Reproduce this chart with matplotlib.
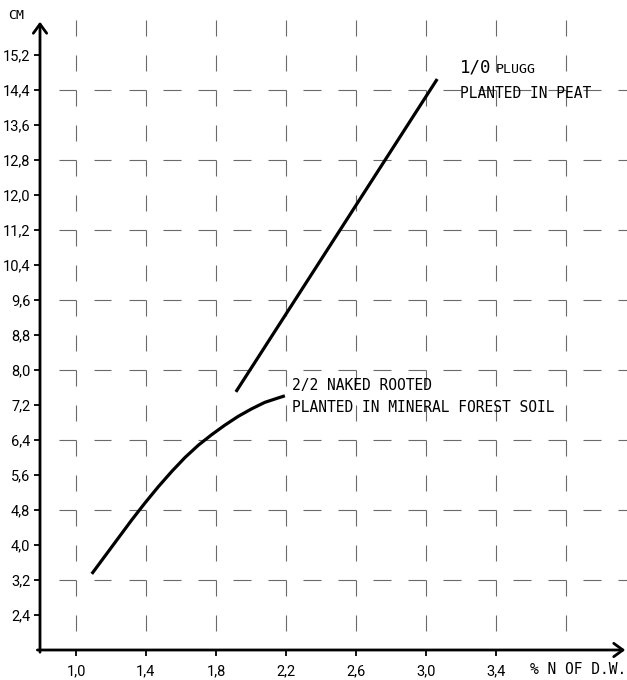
import numpy as np
import matplotlib
matplotlib.use('Agg')
import matplotlib.pyplot as plt

# curve 1: 1/0 plugg planted in peat (straight line)
peat_x = [1.914, 3.065]
peat_y = [7.50, 14.65]

# curve 2: 2/2 naked rooted, mineral forest soil
soil_x = [1.090, 1.166, 1.242, 1.318, 1.394, 1.470, 1.547, 1.623, 1.699, 1.775,
          1.851, 1.927, 2.003, 2.079, 2.155, 2.194]
soil_y = [3.34, 3.75, 4.16, 4.57, 4.96, 5.33, 5.68, 6.00, 6.28, 6.52,
          6.74, 6.94, 7.11, 7.26, 7.36, 7.41]

x_ticks = [1.0, 1.4, 1.8, 2.2, 2.6, 3.0, 3.4]
y_ticks = [2.4, 3.2, 4.0, 4.8, 5.6, 6.4, 7.2, 8.0, 8.8, 9.6, 10.4, 11.2, 12.0, 12.8, 13.6, 14.4, 15.2]
x_grid = [1.0, 1.4, 1.8, 2.2, 2.6, 3.0, 3.4, 3.8]
y_grid = [3.2, 4.8, 6.4, 8.0, 9.6, 11.2, 12.8, 14.4]

XMIN, XMAX = 0.794, 4.15
YMIN, YMAX = 1.6, 16.1

mono = 'DejaVu Sans Mono'
tick_font = ['Liberation Sans Narrow', 'Roboto', 'DejaVu Sans']

fig = plt.figure(figsize=(6.27, 6.80), dpi=100)
ax = fig.add_axes([40 / 627, 30 / 680, 587 / 627, 634.4 / 680])
ax.set_xlim(XMIN, XMAX)
ax.set_ylim(YMIN, YMAX)

# dashed grid: short vertical dashes hanging from each y tick,
# short horizontal dashes ending on every 0.2 step
grid_col = '#6a6a6a'
for gx in x_grid:
    starts = np.append(np.array(y_ticks), 16.0)
    ax.vlines([gx] * len(starts), starts - 0.37, starts, color=grid_col, lw=0.8)
hx = np.arange(1.0, 4.21, 0.2)
for gy in y_grid:
    ax.hlines([gy] * len(hx), hx - 0.1, hx, color=grid_col, lw=0.8)

ax.plot(peat_x, peat_y, color='black', lw=2.3, solid_capstyle='butt')
ax.plot(soil_x, soil_y, color='black', lw=2.3, solid_capstyle='butt', solid_joinstyle='round')

# axes with arrow heads
for s in ax.spines.values():
    s.set_visible(False)
arrow = dict(arrowstyle='->,head_length=0.55,head_width=0.4', lw=2.0, color='black',
             shrinkA=0, shrinkB=0, mutation_scale=12)
ax.annotate('', xy=(XMIN, 15.96), xytext=(XMIN, YMIN - 0.05), arrowprops=arrow, annotation_clip=False)
ax.annotate('', xy=(4.14, YMIN), xytext=(XMIN - 0.015, YMIN), arrowprops=arrow, annotation_clip=False)

ax.set_xticks(x_ticks)
ax.set_yticks(y_ticks)
ax.set_xticklabels([f'{v:.1f}'.replace('.', ',') for v in x_ticks], family=tick_font, fontsize=10.5)
ax.set_yticklabels([f'{v:.1f}'.replace('.', ',') for v in y_ticks], family=tick_font, fontsize=10.5)
ax.tick_params(axis='y', length=4, width=1.3, pad=3)
ax.tick_params(axis='x', length=4, width=1.3, pad=6)

ax.text(0.66, 16.10, 'CM', family=mono, fontsize=9.5, ha='center', va='center', clip_on=False)
ax.text(3.594, 1.143, '% N OF D.W.', family=mono, fontsize=10.5, ha='left', va='center', clip_on=False)

ax.text(3.194, 14.79, '1/0', family=mono, fontsize=12.5, ha='left', va='baseline')
ax.text(3.40, 14.79, 'PLUGG', family=mono, fontsize=9.5, ha='left', va='baseline')
ax.text(3.194, 14.22, 'PLANTED IN PEAT', family=mono, fontsize=10.5, ha='left', va='baseline')
ax.text(2.234, 7.54, '2/2 NAKED ROOTED', family=mono, fontsize=10.5, ha='left', va='baseline')
ax.text(2.234, 7.05, 'PLANTED IN MINERAL FOREST SOIL', family=mono, fontsize=10.5, ha='left', va='baseline')

fig.savefig('out.png', dpi=100)
